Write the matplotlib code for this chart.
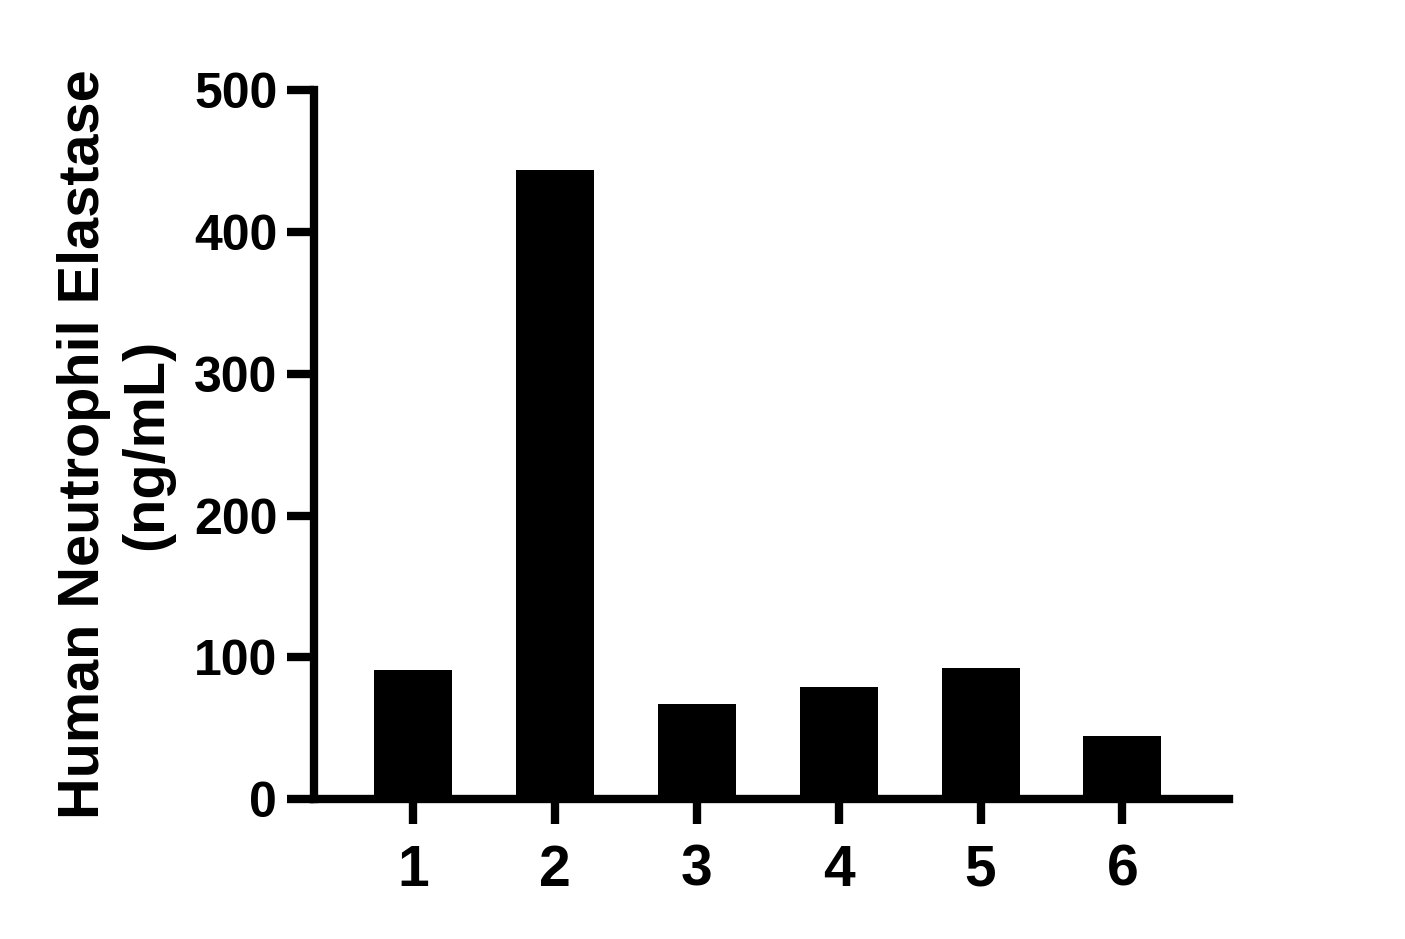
import matplotlib.pyplot as plt

plt.rcParams['font.family'] = ['Liberation Sans', 'DejaVu Sans']
plt.rcParams['font.weight'] = 'bold'

# wartosci
kategorie = ['1', '2', '3', '4', '5', '6']
wartosci = [91, 444, 67, 79, 92.5, 44.5]
y_ticks = [0, 100, 200, 300, 400, 500]

fig = plt.figure(figsize=(14.05, 9.39), dpi=100)
ax = fig.add_axes([0.2235, 0.149, 0.651, 0.755])

pozycje = list(range(1, len(kategorie) + 1))
ax.bar(pozycje, wartosci, width=0.55, color='black', zorder=1)

ax.set_xlim(0.3, 6.75)
ax.set_ylim(0, 500)
ax.set_xticks(pozycje)
ax.set_xticklabels(kategorie, fontsize=41, fontweight='bold')
ax.set_yticks(y_ticks)
ax.set_yticklabels([str(v) for v in y_ticks], fontsize=36, fontweight='bold')

for s in ['top', 'right']:
    ax.spines[s].set_visible(False)
for s in ['left', 'bottom']:
    ax.spines[s].set_linewidth(6)
    ax.spines[s].set_capstyle('projecting')

ax.tick_params(axis='y', length=19.5, width=6, pad=7)
ax.tick_params(axis='x', length=18, width=6, pad=14)

ax.set_ylabel('Human Neutrophil Elastase\n(ng/mL)', fontsize=41.5, fontweight='bold',
              linespacing=1.22, labelpad=14)

fig.savefig('out.png', dpi=100)
